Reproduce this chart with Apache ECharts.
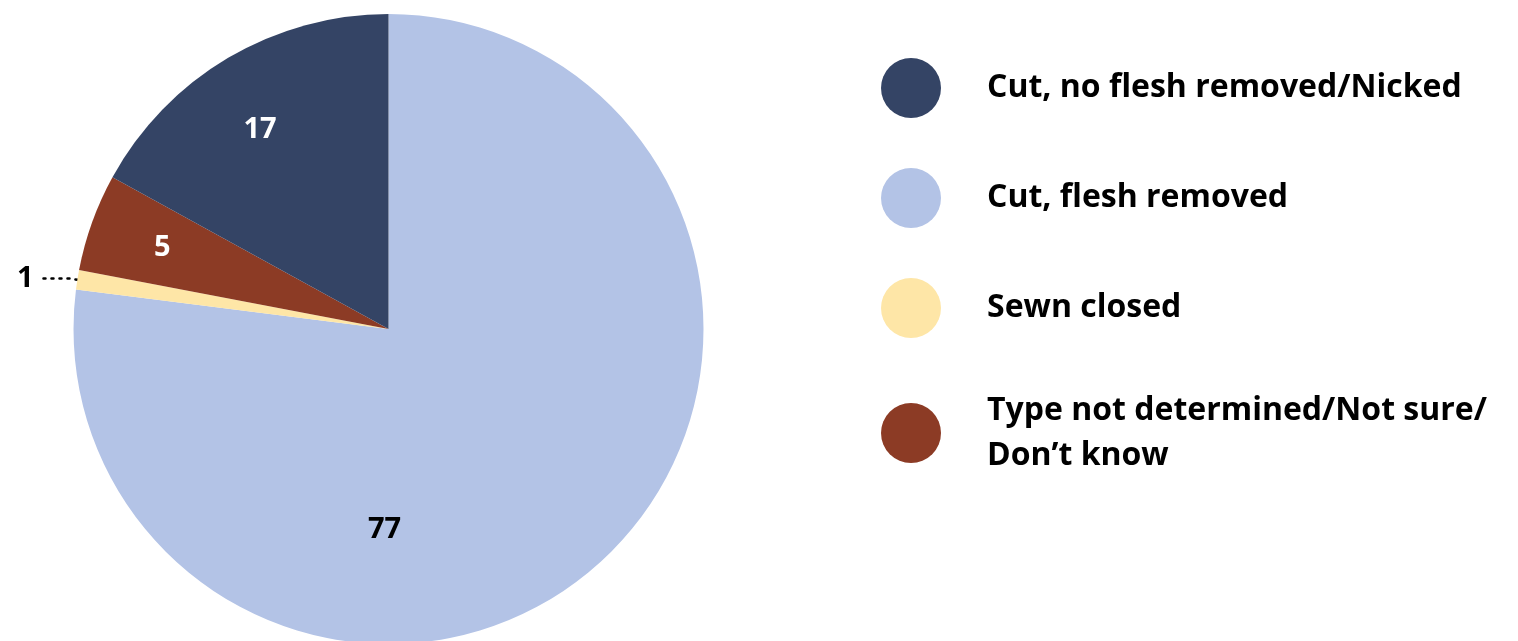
<!DOCTYPE html>
<html><head><meta charset="utf-8">
<script src="https://cdn.jsdelivr.net/npm/echarts@6/dist/echarts.min.js"></script>
<style>html,body{margin:0;padding:0;background:#fff}#c{width:1518px;height:641px}</style>
</head><body><div id="c"></div>
<script>
// Data (legend order)
const categories = ['Cut, no flesh removed/Nicked', 'Cut, flesh removed', 'Sewn closed', 'Type not determined/Not sure/\nDon\u2019t know'];
const values = [17, 77, 1, 5];
const colors = ['#344465', '#B3C3E6', '#FEE6A7', '#8C3B25'];
// Drawing order clockwise from 12 o'clock
const drawOrder = [1, 2, 3, 0];

const FONT = 'Open Sans';
const labelColors = ['#ffffff', '#000000', '#000000', '#ffffff'];

const pieData = drawOrder.map(i => ({name: categories[i], value: values[i], itemStyle: {color: colors[i]}}));
const labelData = drawOrder.map(i => {
  const d = {name: categories[i], value: values[i], itemStyle: {color: 'rgba(0,0,0,0)'},
    label: {show: true, position: 'inside', color: labelColors[i], fontFamily: FONT, fontWeight: 'bold', fontSize: 29, formatter: '{c}'},
    labelLine: {show: false}};
  if (values[i] === 1) {
    d.label = {show: true, position: 'outside', color: '#000', fontFamily: FONT, fontWeight: 'bold', fontSize: 29, formatter: '{c}', distanceToLabelLine: 6};
    d.labelLine = {show: true, length: 8, length2: 30, lineStyle: {color: '#000', type: [2, 6], width: 2.5, cap: 'round'}};
  }
  if (values[i] === 77) {
    d.label.offset = [-163, 20];
  }
  if (values[i] === 17) {
    d.label.offset = [-6, 8];
  }
  return d;
});

const chart = echarts.init(document.getElementById('c'), null, {renderer: 'canvas'});
chart.setOption({
  animation: false,
  legend: {
    orient: 'vertical',
    left: 881, top: 58, padding: 0,
    itemWidth: 60, itemHeight: 60, itemGap: 50,
    icon: 'circle',
    data: categories,
    textStyle: {fontFamily: FONT, fontWeight: 'bold', fontSize: 32, color: '#000', lineHeight: 45, padding: [0, 0, 0, 41]},
    selectedMode: false
  },
  series: [
    {
      type: 'pie', center: [388.5, 329], radius: [0, 315], startAngle: 90, clockwise: true,
      silent: true, label: {show: false}, labelLine: {show: false},
      itemStyle: {borderWidth: 0},
      data: pieData
    },
    {
      type: 'pie', center: [388.5, 329], radius: [160, 315], startAngle: 90, clockwise: true,
      silent: true, legendHoverLink: false, avoidLabelOverlap: false,
      itemStyle: {borderWidth: 0},
      data: labelData
    }
  ]
});
</script></body></html>
